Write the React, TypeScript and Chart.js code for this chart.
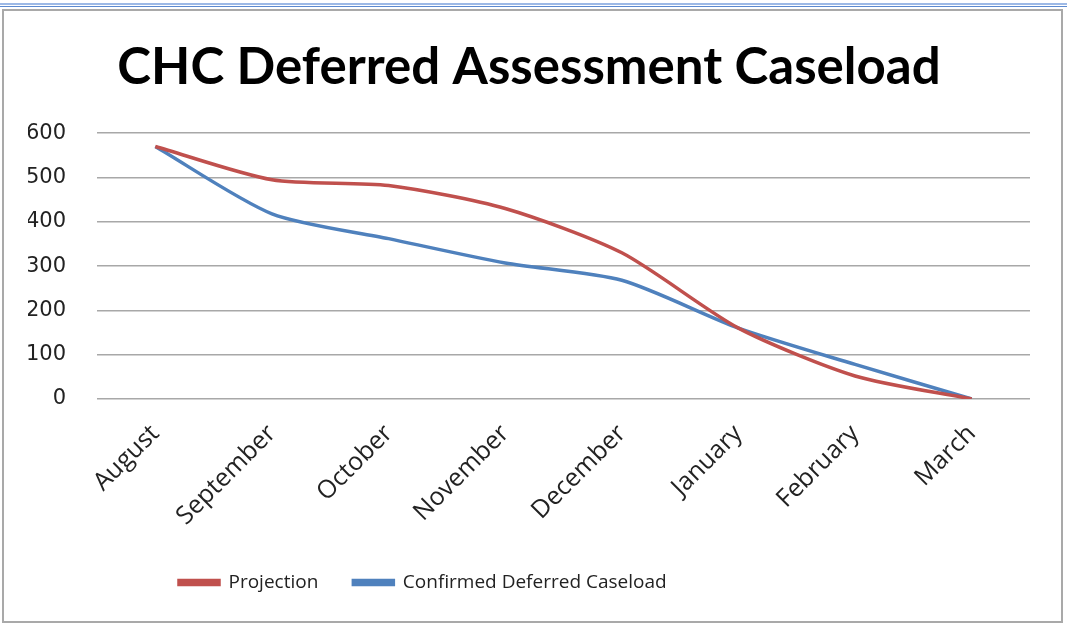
import React, { useEffect, useRef } from "react";
import { Chart, registerables } from "chart.js";

Chart.register(...registerables);

const months = ["August", "September", "October", "November", "December", "January", "February", "March"];
const projection = [570, 495, 482, 430, 330, 160, 52, 0];
const confirmed = [570, 418, 362, 307, 268, 160, 78, 0];
const yTicks = [0, 100, 200, 300, 400, 500, 600];

const RED = "#C0504D";
const BLUE = "#4F81BD";

const legendPlace = {
  id: "legendPlace",
  afterLayout(chart: any) {
    const lg = chart.legend;
    if (!lg) return;
    const w = lg.width;
    const h = lg.height;
    lg.left = 140;
    lg.right = 140 + w;
    lg.top = 527;
    lg.bottom = 527 + h;
  },
};

export default function App() {
  const ref = useRef<HTMLCanvasElement | null>(null);

  useEffect(() => {
    if (!ref.current) return;
    const chart = new Chart(ref.current, {
      type: "line",
      data: {
        labels: months,
        datasets: [
          {
            label: "Projection",
            data: projection,
            borderColor: RED,
            backgroundColor: RED,
            borderWidth: 3.5,
            pointRadius: 0,
            tension: 0.25,
          },
          {
            label: "Confirmed Deferred Caseload",
            data: confirmed,
            borderColor: BLUE,
            backgroundColor: BLUE,
            borderWidth: 3.5,
            pointRadius: 0,
            tension: 0.25,
          },
        ],
      },
      options: {
        animation: false,
        responsive: false,
        maintainAspectRatio: false,
        layout: { padding: { left: 24, right: 31, top: 10, bottom: 8 } },
        plugins: {
          title: {
            display: true,
            text: "CHC Deferred Assessment Caseload",
            color: "#000",
            font: { family: "Lato", size: 51, weight: "bold" },
            padding: { top: 16, bottom: 35 },
          },
          legend: {
            position: "bottom",
            align: "start",
            labels: {
              color: "#222",
              font: { family: "'Open Sans'", size: 19 },
              boxWidth: 40,
              boxHeight: 4,
              padding: 35,
            },
          },
          tooltip: { enabled: false },
        },
        scales: {
          x: {
            offset: true,
            grid: { display: false, drawTicks: false },
            border: { display: false },
            ticks: {
              color: "#222",
              font: { family: "'Open Sans'", size: 25 },
              minRotation: 45,
              maxRotation: 45,
              padding: 20,
              autoSkip: false,
            },
            afterFit: (s: any) => {
              s.paddingLeft = 0;
              s.paddingRight = 0;
              s.height = 150;
            },
          },
          y: {
            min: 0,
            max: 600,
            afterBuildTicks: (axis: any) => {
              axis.ticks = yTicks.map((v) => ({ value: v }));
            },
            afterFit: (s: any) => {
              s.width = 69;
            },
            grid: { color: "#a8a8a8", lineWidth: 1.5, drawTicks: false },
            border: { display: false },
            ticks: {
              color: "#222",
              font: { family: "'DejaVu Sans'", size: 21 },
              padding: 31,
            },
          },
        },
      },
      plugins: [legendPlace],
    });
    return () => chart.destroy();
  }, []);

  return (
    <div style={{ position: "fixed", left: 0, top: 0, width: 1067, height: 627, background: "#fff", overflow: "hidden" }}>
      <div style={{ position: "absolute", left: 0, top: 3, width: 1067, height: 2, background: "#9db9e6" }} />
      <div style={{ position: "absolute", left: 0, top: 6, width: 1067, height: 1, background: "#5d8ad0" }} />
      <div
        style={{
          position: "absolute",
          left: 2,
          top: 9,
          width: 1057,
          height: 610,
          border: "2px solid #a9a9a9",
          background: "#fff",
        }}
      >
        <canvas ref={ref} width={1057} height={610} style={{ display: "block" }} />
      </div>
    </div>
  );
}
